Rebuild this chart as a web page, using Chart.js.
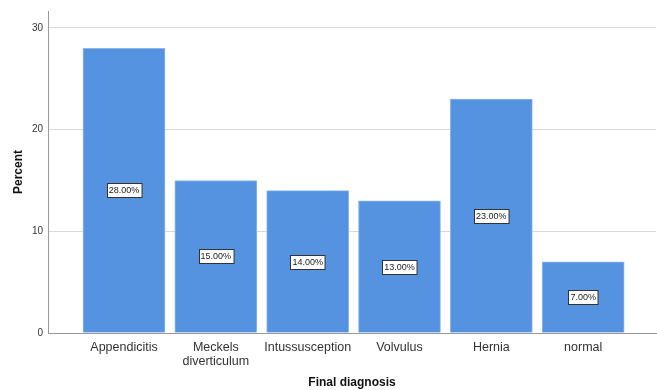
<!DOCTYPE html>
<html>
<head>
<meta charset="utf-8">
<script src="https://cdn.jsdelivr.net/npm/chart.js@4"></script>
<style>
  html, body { margin: 0; padding: 0; background: #fff; }
  #wrap { width: 657px; height: 390px; position: relative; }
</style>
</head>
<body>
<div id="wrap"><canvas id="chart"></canvas></div>
<script>
const categories = ['Appendicitis', 'Meckels diverticulum', 'Intussusception', 'Volvulus', 'Hernia', 'normal'];
const percents = [28, 15, 14, 13, 23, 7];
const yTicks = [0, 10, 20, 30];

const FONT = "'Liberation Sans', Arial, sans-serif";

// boxed percent labels in the middle of each bar
const valueBoxes = {
  id: 'valueBoxes',
  afterDatasetsDraw(chart) {
    const ctx = chart.ctx;
    const meta = chart.getDatasetMeta(0);
    ctx.save();
    ctx.font = '9px ' + FONT;
    ctx.textAlign = 'center';
    ctx.textBaseline = 'middle';
    meta.data.forEach((bar, i) => {
      const text = percents[i].toFixed(2) + '%';
      const w = ctx.measureText(text).width + 4;
      const h = 14;
      const cx = bar.x;
      const cy = Math.round((bar.y + bar.base) / 2);
      const x0 = Math.round(cx - w / 2) + 0.5;
      const y0 = Math.round(cy - h / 2) + 0.5;
      ctx.fillStyle = '#fff';
      ctx.fillRect(x0, y0, w, h);
      ctx.strokeStyle = '#333';
      ctx.lineWidth = 1;
      ctx.strokeRect(x0, y0, w, h);
      ctx.fillStyle = '#222';
      ctx.fillText(text, cx, cy + 0.5);
    });
    ctx.restore();
  }
};

const chart = new Chart(document.getElementById('chart'), {
  type: 'bar',
  data: {
    datasets: [{
      data: percents.map((v, i) => ({x: i, y: v})),
      backgroundColor: '#5592e0',
      borderColor: '#8db6ea',
      borderWidth: 1,
      barThickness: 82
    }]
  },
  options: {
    responsive: true,
    maintainAspectRatio: false,
    animation: false,
    layout: { padding: { top: 10, right: 1, left: 0, bottom: 0 } },
    plugins: { legend: { display: false }, tooltip: { enabled: false } },
    scales: {
      x: {
        type: 'linear',
        offset: false,
        min: -0.8275,
        max: 5.793,
        afterBuildTicks: (scale) => { scale.ticks = categories.map((c, i) => ({value: i})); },
        afterFit: (scale) => { scale.height = 57; },
        grid: { display: false, drawTicks: false, offset: false },
        border: { display: true, color: '#999', width: 1 },
        ticks: {
          autoSkip: false,
          maxRotation: 0,
          padding: 8,
          color: '#333',
          font: { family: FONT, size: 12.5, lineHeight: 1.1 },
          callback: (v) => {
            const c = categories[v];
            return c && c.length > 16 ? c.split(' ') : c;
          }
        },
        title: {
          display: true,
          text: 'Final diagnosis',
          color: '#111',
          padding: { top: 2, bottom: 0 },
          font: { family: FONT, size: 12, weight: 'bold' }
        }
      },
      y: {
        min: 0,
        max: 31.67,
        afterBuildTicks: (scale) => { scale.ticks = yTicks.map(v => ({value: v})); },
        afterFit: (scale) => { scale.width = 48; },
        grid: { color: (c) => c.tick && c.tick.value === 0 ? 'rgba(0,0,0,0)' : '#d9d9d9', drawTicks: false },
        border: { display: true, color: '#999', width: 1 },
        ticks: {
          padding: 5,
          color: '#333',
          font: { family: FONT, size: 10 }
        },
        title: {
          display: true,
          text: 'Percent',
          color: '#111',
          padding: { top: 11, bottom: 0 },
          font: { family: FONT, size: 12, weight: 'bold' }
        }
      }
    }
  },
  plugins: [valueBoxes]
});
</script>
</body>
</html>
